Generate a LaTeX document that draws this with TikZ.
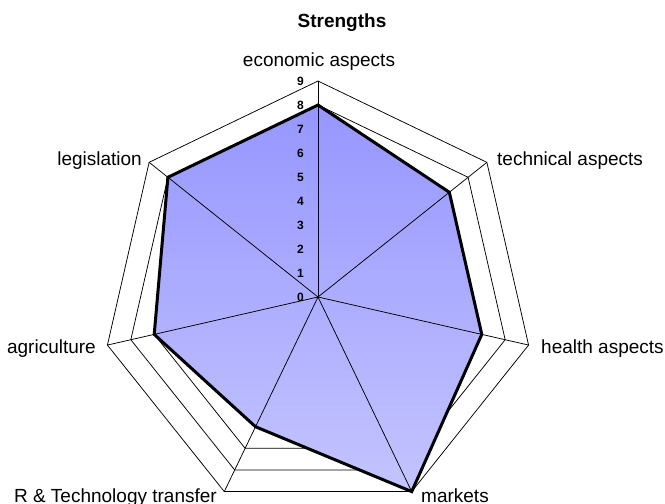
\documentclass[tikz,border=0pt]{standalone}
\usepackage{fontspec}
\setmainfont{Liberation Sans}
\definecolor{topc}{RGB}{150,150,255}
\definecolor{botc}{RGB}{196,196,255}
\begin{document}
\begin{tikzpicture}[x=1pt,y=-1pt,
  lbl/.style={font=\fontsize{19}{22}\selectfont, inner sep=0pt},
  num/.style={font=\fontsize{12}{14}\selectfont\bfseries, inner sep=0pt, anchor=east},
  gridline/.style={line width=0.75pt, black, line join=miter},
  series/.style={line width=3pt, black, line join=miter}]
\useasboundingbox (0,0) rectangle (665,504);
\begin{scope}[shift={(318,297)}]
  \coordinate (O) at (0,0);
  % rings
  \foreach \r in {1,...,9}{
    \draw[gridline] (90:{\r*24pt}) \foreach \k in {1,...,6}{ -- ({90-\k*360/7}:{\r*24pt}) } -- cycle;
  }
  % data points
  \foreach \v [count=\i from 0] in {8,7,7,9,6,7,8}{
    \coordinate (d\i) at ({90-\i*360/7}:{\v*24pt});
  }
  \foreach \k in {0,...,6}{
    \coordinate (e\k) at ({90-\k*360/7}:216pt);
  }
  \path[top color=topc, bottom color=botc] (d0) -- (d1) -- (d2) -- (d3) -- (d4) -- (d5) -- (d6) -- cycle;
  % spokes
  \foreach \k in {0,...,6}{
    \draw[gridline] (O) -- (e\k);
  }
  \draw[series] (d0) -- (d1) -- (d2) -- (d3) -- (d4) -- (d5) -- (d6) -- cycle;
\end{scope}
% axis numbers
\foreach \k in {0,...,9}{
  \node[num] (n\k) at (304,{297-24*\k}) {\k};
}
% title and labels
\node[lbl, anchor=base] (title) at (342,27) {\bfseries Strengths};
\node[lbl, anchor=base] (econ) at (319,66) {economic aspects};
\node[lbl, anchor=base west] (tech) at (497,165) {technical aspects};
\node[lbl, anchor=base east] (legis) at (142,165) {legislation};
\node[lbl, anchor=base west] (health) at (541,353) {health aspects};
\node[lbl, anchor=base east] (agri) at (96,353) {agriculture};
\node[lbl, anchor=base west] (mark) at (421,502) {markets};
\node[lbl, anchor=base east] (rtt) at (217,502) {R \& Technology transfer};
\end{tikzpicture}
\end{document}
